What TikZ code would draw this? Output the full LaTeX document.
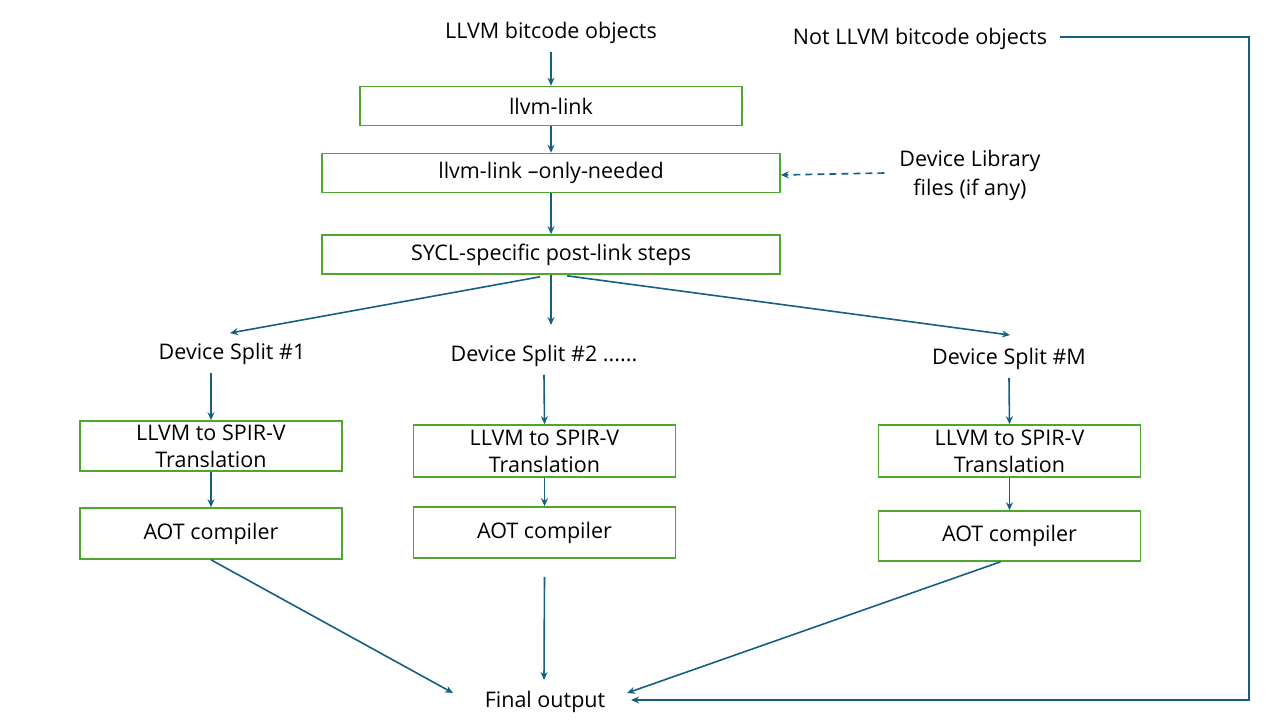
\documentclass[tikz,border=0pt]{standalone}
\usepackage{fontspec}
\setmainfont{Open Sans}
\usetikzlibrary{positioning}
\usetikzlibrary{arrows.meta}
\definecolor{boxgreen}{HTML}{4EA72E}
\definecolor{flowblue}{HTML}{156082}

\begin{document}
\begin{tikzpicture}[x=1pt,y=-1pt,
  stage/.style={draw=boxgreen,line width=1.6pt,minimum width=#1,minimum height=39pt,
    inner sep=0pt,align=center,font=\fontsize{21.5}{27}\selectfont},
  lbl/.style={inner sep=0pt,align=center,font=\fontsize{21.5}{29}\selectfont},
  flow/.style={draw=flowblue,line width=1.6pt,-{Stealth[length=8pt,width=7pt]}}]
 \useasboundingbox (0,0) rectangle (1280,720);
 % top of the chain
 \node[lbl] (bc) at (551,33) {LLVM bitcode objects};
 \node[lbl] (notbc) at (920,39) {Not LLVM bitcode objects};
 \node[stage=382pt] (link) at (551,106) {llvm-link};
 \node[stage=458pt] (only) at (551,173) {llvm-link –only-needed};
 \node[lbl] (devlib) at (970,175) {Device Library\\files (if any)};
 \node[stage=458pt] (post) at (551,254.5) {SYCL-specific post-link steps};
 % device splits
 \node[lbl] (split1) at (232,354) {Device Split \#1};
 \node[lbl] (split2) at (544,356) {Device Split \#2 ......};
 \node[lbl] (splitm) at (1009,359) {Device Split \#M};
 \node[stage=262pt,minimum height=50pt] (spv1) at (211,446) {LLVM to SPIR-V\\Translation};
 \node[stage=262pt,minimum height=52pt] (spv2) at (544.5,451) {LLVM to SPIR-V\\Translation};
 \node[stage=262pt,minimum height=52pt] (spvm) at (1009.5,451) {LLVM to SPIR-V\\Translation};
 \node[stage=262pt,minimum height=51pt] (aot1) at (211,533.5) {AOT compiler};
 \node[stage=262pt,minimum height=51pt] (aot2) at (544.5,532.5) {AOT compiler};
 \node[stage=262pt,minimum height=50pt] (aotm) at (1009.5,536) {AOT compiler};
 \node[lbl] (out) at (545,702) {Final output};
 \coordinate (rt) at (1249,37);

 \draw[flow] ([yshift=-8pt]bc.south) -- (link.north);
 \draw[flow] (link.south) -- (only.north);
 \draw[flow] (only.south) -- (post.north);
 \draw[flow,dash pattern=on 7pt off 5pt] ([xshift=-15pt,yshift=2pt]devlib.west) -- ([yshift=-2pt]only.east);
 \draw[flow] ([xshift=-11pt,yshift=-2pt]post.south) -- ([xshift=-2pt,yshift=10pt]split1.north);
 \draw[flow] (post.south) -- ([xshift=7pt,yshift=20pt]split2.north);
 \draw[flow] ([xshift=16pt,yshift=-1pt]post.south) -- ([xshift=1pt,yshift=13pt]splitm.north);
 \draw[flow] ([xshift=-21pt,yshift=-8pt]split1.south) -- (spv1.north);
 \draw[flow] ([yshift=-8pt]split2.south) -- (spv2.north);
 \draw[flow] ([yshift=-8pt]splitm.south) -- (spvm.north);
 \draw[flow] (spv1.south) -- (aot1.north);
 \draw[flow] (spv2.south) -- (aot2.north);
 \draw[flow] (spvm.south) -- (aotm.north);
 \draw[flow] (aot1.south) -- ([shift={(-92,-9)}]out.center);
 \draw[flow] ([yshift=-18pt]aot2.south) -- ([shift={(-1,-22)}]out.center);
 \draw[flow] ([xshift=-9pt]aotm.south) -- ([shift={(82,-9)}]out.center);
 \draw[flow] ([xshift=13pt,yshift=2pt]notbc.east) -- (rt) |- ([xshift=86pt,yshift=2pt]out.center);
\end{tikzpicture}
\end{document}
